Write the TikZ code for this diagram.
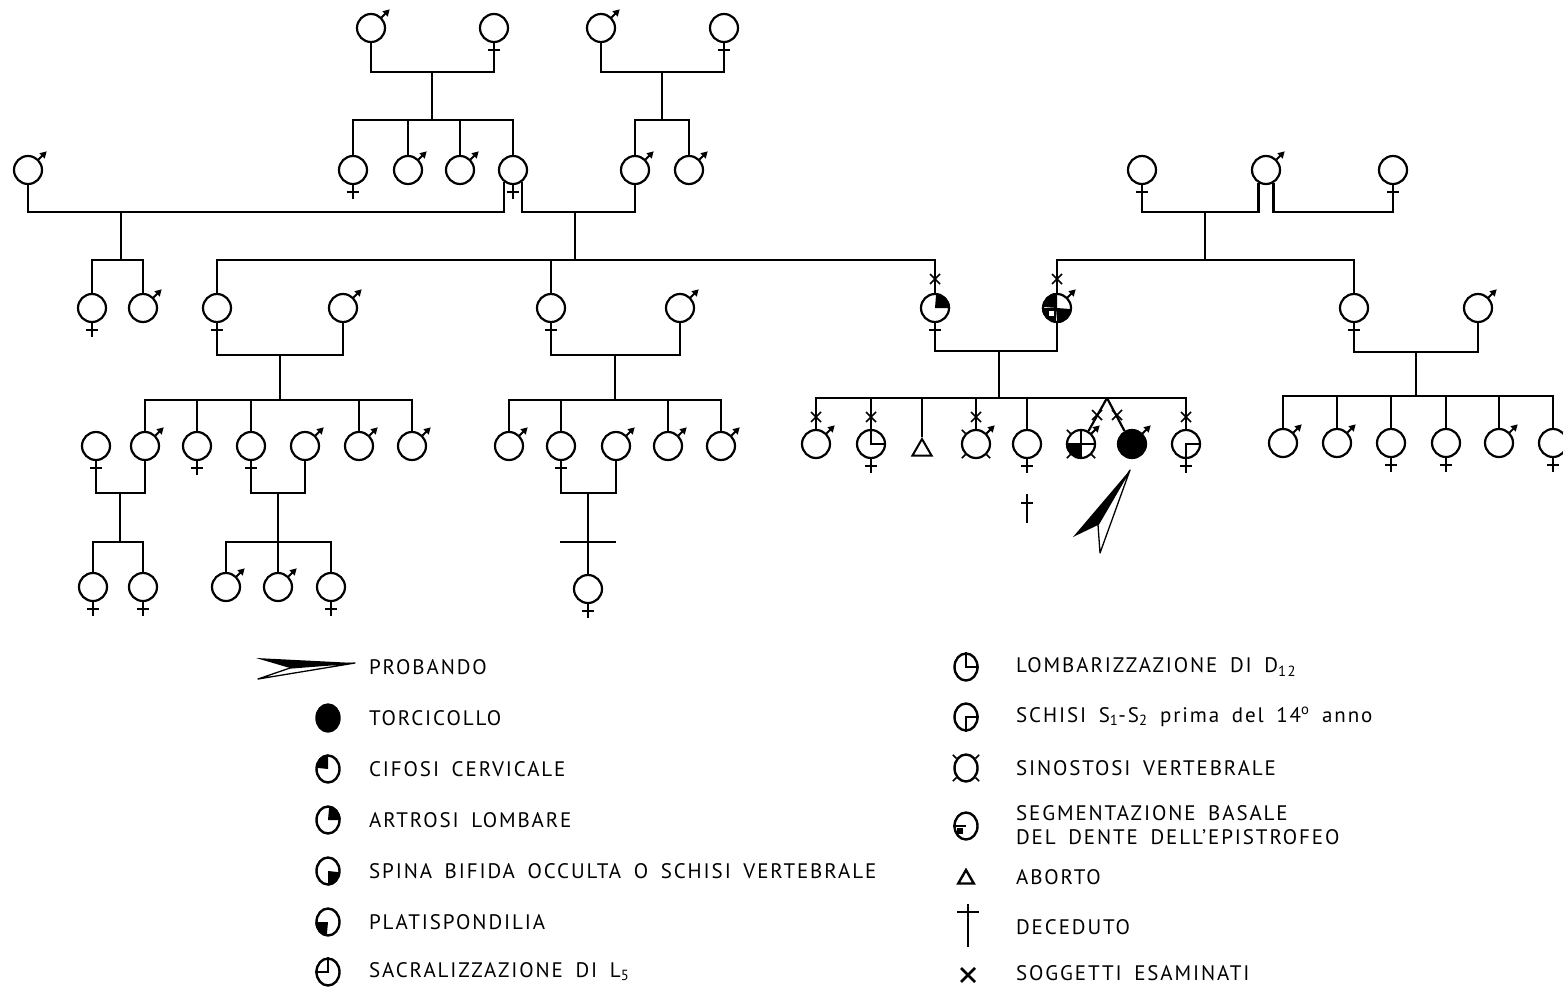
\documentclass[tikz,border=0pt]{standalone}
\usepackage{fontspec}
\setmainfont{PT Sans}[LetterSpace=9]
\usetikzlibrary{arrows.meta,shapes.geometric}
\newcommand\lblfont{\fontsize{21}{24}\selectfont\spaceskip=0.6em plus 0.1em\relax}
\tikzset{
 ind/.style={circle, draw, line width=2.2pt, minimum size=28pt, inner sep=0pt},
 leg/.style={ellipse, draw, line width=2.4pt, minimum width=23pt, minimum height=27pt, inner sep=0pt},
 tri/.style={regular polygon, regular polygon sides=3, draw, line width=2pt, minimum size=22pt, inner sep=0pt},
 marrow/.style={line width=1.8pt, -{Triangle[length=6.5pt,width=7pt]}},
 thin/.style={line width=1.5pt},
 lbl/.style={anchor=west, inner sep=0pt, font=\lblfont},
}
\newcommand\Mi[3]{\node[ind] (#1) at (#2,#3) {}; \draw[marrow] (#1.45) -- ++(8pt,8pt);}
\newcommand\Fi[3]{\node[ind] (#1) at (#2,#3) {}; \draw (#1.south) -- ++(0pt,-14pt); \draw (#1.south) ++(-6pt,-7pt) -- ++(12pt,0pt);}
\newcommand\qf[2]{\fill (#1.center) -- (#1.#2) arc[start angle=#2, delta angle=90, radius=14pt] -- cycle;}
\newcommand\qfe[2]{\fill (#1.center) -- (#1.#2) arc[start angle=#2, delta angle=90, x radius=11.5pt, y radius=13.5pt] -- cycle;}
\newcommand\ticks[1]{\foreach \a in {45,135,225,315} \draw[thin] (#1.\a) -- ++(\a:5pt);}
\newcommand\exam[1]{\draw[thin] (#1) ++(-5pt,-5pt) -- ++(10pt,10pt); \draw[thin] (#1) ++(-5pt,5pt) -- ++(10pt,-10pt);}
\begin{document}
\begin{tikzpicture}[x=1pt, y=-1pt, line width=2.2pt]
\useasboundingbox (0,0) rectangle (1563,990);
\clip (0,0) rectangle (1563,990);
\fill[white] (0,0) rectangle (1563,990);
% ---------- Generation I ----------
\Mi{A1}{371}{28} \Fi{A2}{494}{28} \Mi{A3}{601}{28} \Fi{A4}{724}{28}
\coordinate (mA) at (432,72); \coordinate (sA) at (432,120);
\coordinate (mB) at (662,72); \coordinate (sB) at (662,120);
\draw (A1.south) |- (mA) -| (A2.south); \draw (mA) -- (sA);
\draw (A3.south) |- (mB) -| (A4.south); \draw (mB) -- (sB);
\Fi{B1}{353}{170} \Mi{B2}{408}{170} \Mi{B3}{460}{170} \Fi{B4}{513}{170}
\foreach \c in {B1,B2,B3,B4} \draw (\c.north) |- (sA);
\Mi{B5}{635}{170} \Mi{B6}{689}{170}
\foreach \c in {B5,B6} \draw (\c.north) |- (sB);
\Mi{B0}{28}{170}
\coordinate (mL) at (121,212); \coordinate (sL) at (121,260);
\coordinate (mR) at (575,212); \coordinate (sM) at (575,260);
\draw (B0.south) |- (mL) -| (B4.-125);
\draw (B4.-55) |- (mR) -| (B5.south);
\draw (mL) -- (sL); \draw (mR) -- (sM);
\Fi{R1}{1142}{170} \Mi{R2}{1266}{170} \Fi{R3}{1393}{170}
\coordinate (mR1) at (1205,212); \coordinate (sR) at (1205,260); \coordinate (mR2) at (1330,212);
\draw (R1.south) |- (mR1) -| (R2.-120);
\draw (R2.-60) |- (mR2) -| (R3.south);
\draw (mR1) -- (sR);
% ---------- Generation II ----------
\Fi{C1}{92}{308} \Mi{C2}{143}{308}
\draw (C1.north) |- (sL); \draw (C2.north) |- (sL);
\Fi{C3}{217}{308} \Mi{C4}{343}{308} \Fi{C5}{551}{308} \Mi{C6}{680}{308}
\Fi{C7}{935}{308} \Mi{C8}{1057}{308} \Fi{C9}{1354}{308} \Mi{C10}{1478}{308}
\foreach \c in {C3,C5,C7} \draw (\c.north) |- (sM);
\foreach \c in {C8,C9} \draw (\c.north) |- (sR);
\qf{C7}{0}
\qf{C8}{90} \qf{C8}{180} \qf{C8}{270}
\fill[white] (C8.center) ++(-8pt,-3pt) rectangle ++(5pt,-5pt);
\exam{935,279} \exam{1057,279}
% ---------- Generation III ----------
\coordinate (m3) at (280,355); \coordinate (s3) at (280,400);
\draw (C3.south) |- (m3) -| (C4.south); \draw (m3) -- (s3);
\Fi{D1}{96}{446} \Mi{D2}{145}{446} \Fi{D3}{197}{446} \Fi{D4}{251}{446}
\Mi{D5}{305}{446} \Mi{D6}{359}{446} \Mi{D7}{412}{446}
\foreach \c in {D2,D3,D4,D6,D7} \draw (\c.north) |- (s3);
\coordinate (m4) at (615,355); \coordinate (s4) at (615,400);
\draw (C5.south) |- (m4) -| (C6.south); \draw (m4) -- (s4);
\Mi{E1}{509}{446} \Fi{E2}{561}{446} \Mi{E3}{616}{446} \Mi{E4}{668}{446} \Mi{E5}{721}{446}
\foreach \c in {E1,E2,E4,E5} \draw (\c.north) |- (s4);
\coordinate (m5) at (999,351); \coordinate (s5) at (999,398);
\draw (C7.south) |- (m5) -| (C8.south); \draw (m5) -- (s5);
\Mi{G1}{816}{444} \Fi{G2}{871}{444}
\node[tri] (G3) at (922,450) {};
\Mi{G4}{976}{444} \Fi{G5}{1027}{444} \Mi{G6}{1081}{444} \Mi{G7}{1132}{444} \Fi{G8}{1186}{444}
\foreach \c in {G1,G2,G3,G4,G5,G8} \draw (\c.north) |- (s5);
\coordinate (tw) at (1107,398);
\draw (tw) -- (G6.60); \draw (tw) -- (G7.120);
\exam{816,417} \exam{871,417} \exam{976,417} \exam{1186,417}
\exam{1097,415} \exam{1117,415}
\draw[thin] (G2.north) -- (G2.center) -- (G2.east);
\ticks{G4}
\draw[thin] (G6.north) -- (G6.south); \draw[thin] (G6.west) -- (G6.east);
\qf{G6}{180} \ticks{G6}
\fill (G7.center) circle[radius=14pt];
\draw[thin] (G8.east) -- (G8.center) -- (G8.south);
\draw[line width=1.5pt] (1027,494) -- (1027,523);
\draw[line width=1.5pt] (1021,503) -- (1033,503);
\fill (1130,470) -- (1073,537) -- (1098,525) -- cycle;
\draw[line width=1.3pt, line join=round] (1130,470) -- (1098,525) -- (1100,553) -- cycle;
\coordinate (m6) at (1416,352); \coordinate (s6) at (1416,396);
\draw (C9.south) |- (m6) -| (C10.south); \draw (m6) -- (s6);
\Mi{H1}{1283}{443} \Mi{H2}{1337}{443} \Fi{H3}{1391}{443} \Fi{H4}{1446}{443} \Mi{H5}{1499}{443} \Fi{H6}{1553}{443}
\foreach \c in {H1,H2,H3,H4,H5,H6} \draw (\c.north) |- (s6);
% ---------- Generation IV ----------
\coordinate (m7) at (120,493); \coordinate (s7) at (120,542);
\draw (D1.south) |- (m7) -| (D2.south); \draw (m7) -- (s7);
\Fi{K1}{93}{587} \Fi{K2}{143}{587}
\draw (K1.north) |- (s7); \draw (K2.north) |- (s7);
\coordinate (m8) at (278,493); \coordinate (s8) at (278,542);
\draw (D4.south) |- (m8) -| (D5.south); \draw (m8) -- (s8);
\Mi{K3}{226}{587} \Mi{K4}{278}{587} \Fi{K5}{331}{587}
\foreach \c in {K3,K4,K5} \draw (\c.north) |- (s8);
\coordinate (m9) at (588,493);
\draw (E2.south) |- (m9) -| (E3.south);
\Fi{K6}{588}{589}
\draw (m9) -- (K6.north);
\coordinate (b1) at (560,542); \coordinate (b2) at (616,542);
\draw (b1) -- (b2);
% ---------- Legend left ----------
\fill (355,663) -- (256,658) -- (290,668) -- cycle;
\draw[line width=1.3pt, line join=round] (355,663) -- (290,668) -- (258,679) -- cycle;
\node[lbl] (t0) at (368,667) {PROBANDO};
\node[leg, fill] (L1) at (328,718) {};
\node[lbl] (t1) at (368,718) {TORCICOLLO};
\node[leg] (L2) at (328,769) {}; \qfe{L2}{90}
\node[lbl] (t2) at (368,769) {CIFOSI CERVICALE};
\node[leg] (L3) at (328,820) {}; \qfe{L3}{0}
\node[lbl] (t3) at (368,820) {ARTROSI LOMBARE};
\node[leg] (L4) at (328,871) {}; \qfe{L4}{270}
\node[lbl] (t4) at (368,871) {SPINA BIFIDA OCCULTA O SCHISI VERTEBRALE};
\node[leg] (L5) at (328,922) {}; \qfe{L5}{180}
\node[lbl] (t5) at (368,922) {PLATISPONDILIA};
\node[leg] (L6) at (328,972) {}; \draw[thin] (L6.north) -- (L6.center) -- (L6.west);
\node[lbl] (t6) at (368,972) {SACRALIZZAZIONE DI L\textsubscript{5}};
% ---------- Legend right ----------
\node[leg] (P1) at (966,667) {}; \draw[thin] (P1.north) -- (P1.center) -- (P1.east);
\node[lbl] (u1) at (1015,667) {LOMBARIZZAZIONE DI D\textsubscript{12}};
\node[leg] (P2) at (966,717) {}; \draw[thin] (P2.east) -- (P2.center) -- (P2.south);
\node[lbl] (u2) at (1015,717) {SCHISI S\textsubscript{1}-S\textsubscript{2} prima del 14\textsuperscript{o} anno};
\node[leg] (P3) at (966,768) {}; \ticks{P3}
\node[lbl] (u3) at (1015,768) {SINOSTOSI VERTEBRALE};
\node[leg] (P4) at (966,826) {}; \draw[thin] (P4.west) -- (P4.center);
\fill (P4.center) ++(-9pt,-2pt) rectangle ++(6pt,-6pt);
\node[lbl, align=left] (u4) at (1015,825) {SEGMENTAZIONE BASALE\\DEL DENTE DELL'EPISTROFEO};
\node[tri, line width=2.4pt, minimum size=18pt] (P5) at (966,879) {};
\node[lbl] (u5) at (1015,877) {ABORTO};
\draw[line width=2pt] (968,904) -- (968,947);
\draw[line width=2pt] (957,912) -- (979,912);
\node[lbl] (u6) at (1015,927) {DECEDUTO};
\draw[line width=2.6pt] (961,968) -- (975,982); \draw[line width=2.6pt] (961,982) -- (975,968);
\node[lbl] (u7) at (1015,973) {SOGGETTI ESAMINATI};
\end{tikzpicture}
\end{document}
